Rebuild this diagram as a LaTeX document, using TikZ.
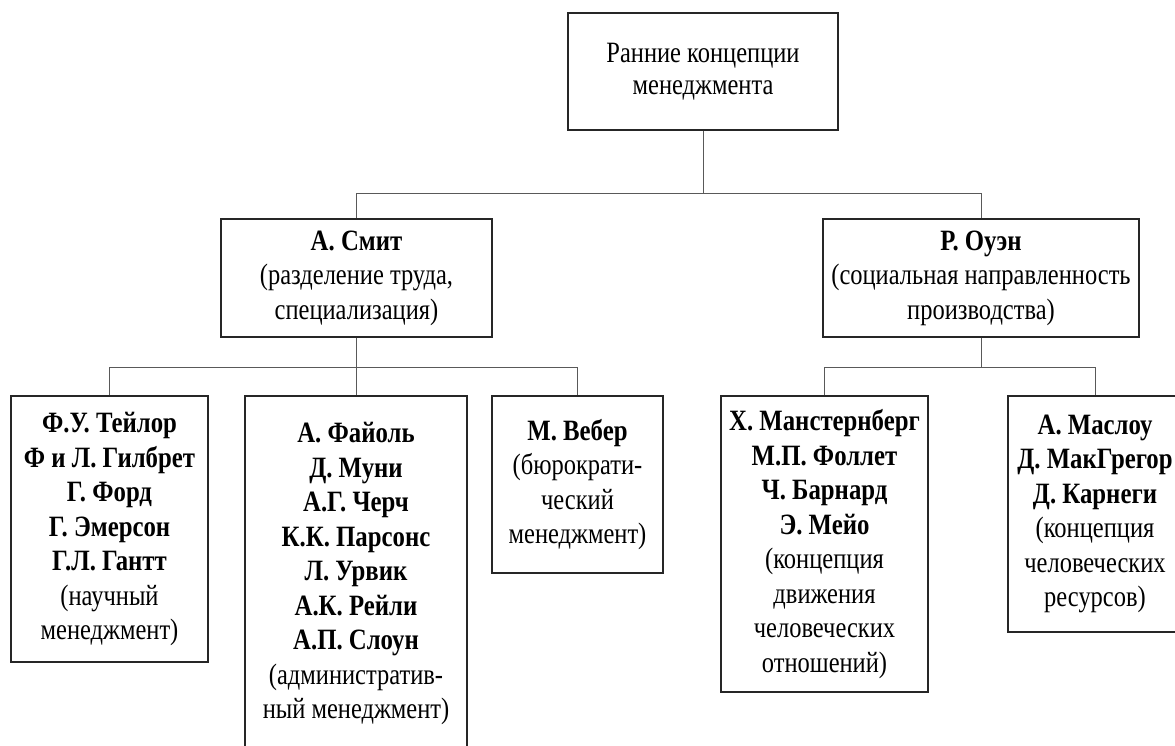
\documentclass[tikz,border=0pt]{standalone}
\usepackage{fontspec}
\setmainfont{Liberation Serif}[FakeStretch=0.83,BoldFeatures={FakeStretch=0.84}]
\begin{document}
\begin{tikzpicture}[x=1pt,y=-1pt,
  box/.style={draw=black!85,line width=1.2pt,fill=white,inner sep=0pt,align=center,
    font=\fontsize{29.5}{34.5}\selectfont},
  conn/.style={draw=black!65,line width=1pt}]
\useasboundingbox (0,0) rectangle (1175,745);
\fill[white] (0,0) rectangle (1175,745);

\node[box,minimum width=270pt,minimum height=117pt,font=\fontsize{29.5}{32.5}\selectfont] (top) at (703,71.5)
  {Ранние концепции\\менеджмента};
\node[box,minimum width=271pt,minimum height=118pt] (smith) at (356.5,278)
  {\textbf{А. Смит}\\(разделение труда,\\специализация)};
\node[box,minimum width=316pt,minimum height=118pt] (owen) at (981,278)
  {\textbf{Р. Оуэн}\\(социальная направленность\\производства)};

\node[box,minimum width=197pt,minimum height=266pt] (b1) at (109.5,529)
  {\textbf{Ф.У. Тейлор}\\\textbf{Ф и Л. Гилбрет}\\\textbf{Г. Форд}\\\textbf{Г. Эмерсон}\\\textbf{Г.Л. Гантт}\\(научный\\менеджмент)};
\node[box,minimum width=222pt,minimum height=355pt] (b2) at (356,573.5)
  {\textbf{А. Файоль}\\\textbf{Д. Муни}\\\textbf{А.Г. Черч}\\\textbf{К.К. Парсонс}\\\textbf{Л. Урвик}\\\textbf{А.К. Рейли}\\\textbf{А.П. Слоун}\\(административ-\\ный менеджмент)};
\node[box,minimum width=171pt,minimum height=177pt] (b3) at (577.5,484.5)
  {\textbf{М. Вебер}\\(бюрократи-\\ческий\\менеджмент)};
\node[box,minimum width=207pt,minimum height=296pt] (b4) at (824.5,544)
  {\textbf{Х. Манстернберг}\\\textbf{М.П. Фоллет}\\\textbf{Ч. Барнард}\\\textbf{Э. Мейо}\\(концепция\\движения\\человеческих\\отношений)};
\node[box,minimum width=174pt,minimum height=236pt] (b5) at (1095,514)
  {\textbf{А. Маслоу}\\\textbf{Д. МакГрегор}\\\textbf{Д. Карнеги}\\(концепция\\человеческих\\ресурсов)};

\draw[conn] (top.south) -- (top.south |- 0,193);
\draw[conn] (smith.north) |- (owen.north |- 0,193) -- (owen.north);

\draw[conn] (smith.south) -- (smith.south |- 0,367);
\draw[conn] (b1.north) |- (b3.north |- 0,367) -- (b3.north);
\draw[conn] (b2.north) -- (b2.north |- 0,367);

\draw[conn] (owen.south) -- (owen.south |- 0,367);
\draw[conn] (b4.north) |- (b5.north |- 0,367) -- (b5.north);
\end{tikzpicture}
\end{document}
